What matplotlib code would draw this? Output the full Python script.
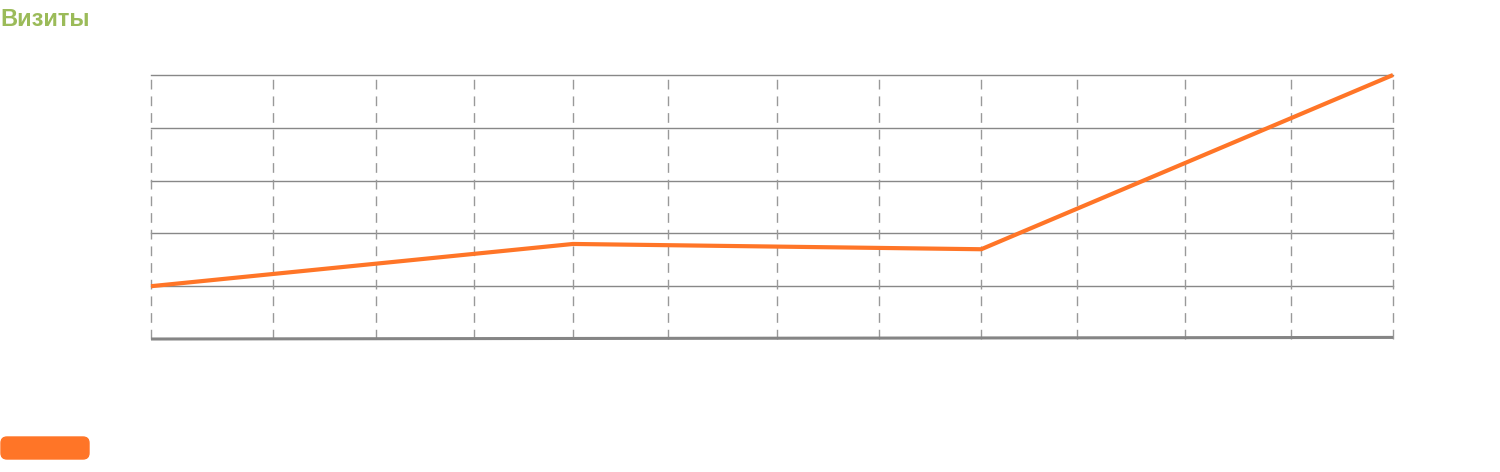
import matplotlib.pyplot as plt
from matplotlib.patches import FancyBboxPatch

# days from start of period
days = [0, 124, 244, 365]
visits = [20, 36, 34, 100]
other = [0.0, 0.2, 0.4, 0.6]

grid_days = [0, 36, 66, 95, 124, 152, 184, 214, 244, 272, 304, 335, 365]
y_ticks = [0, 20, 40, 60, 80, 100]

orange = '#ff7527'
green = '#9bbb59'

fig = plt.figure(figsize=(15, 4.72), dpi=100)
ax = fig.add_axes([151/1500, 1 - 339/472, 1242/1500, 264/472])

for v in y_ticks[1:]:
    ax.axhline(v, color='#888888', lw=1, zorder=1, clip_on=False)
for d in grid_days:
    ax.axvline(d, color='#999999', lw=1, ls=(0, (7, 5)), zorder=1, clip_on=False)

ax.plot(days, other, color='#858585', lw=2.2, zorder=3, solid_capstyle='butt', clip_on=False)
ax.plot(days, visits, color=orange, lw=3, zorder=4, solid_capstyle='butt', clip_on=False)

ax.set_xlim(0, 365)
ax.set_ylim(0, 100)
ax.set_xticks([])
ax.set_yticks([])
for s in ax.spines.values():
    s.set_visible(False)
ax.patch.set_alpha(0)

fig.text(0, 1 - 20/472, 'Визиты', color=green, fontsize=17, fontweight='bold',
         family=['Liberation Sans', 'DejaVu Sans'], va='center', ha='left')

fig.patches.append(FancyBboxPatch((1/1500, 1 - 459/472), 88/1500, 22/472,
                                  boxstyle='round,pad=0,rounding_size=0.004',
                                  transform=fig.transFigure, color=orange,
                                  mutation_aspect=1500/472))

fig.savefig('out.png', dpi=100)
